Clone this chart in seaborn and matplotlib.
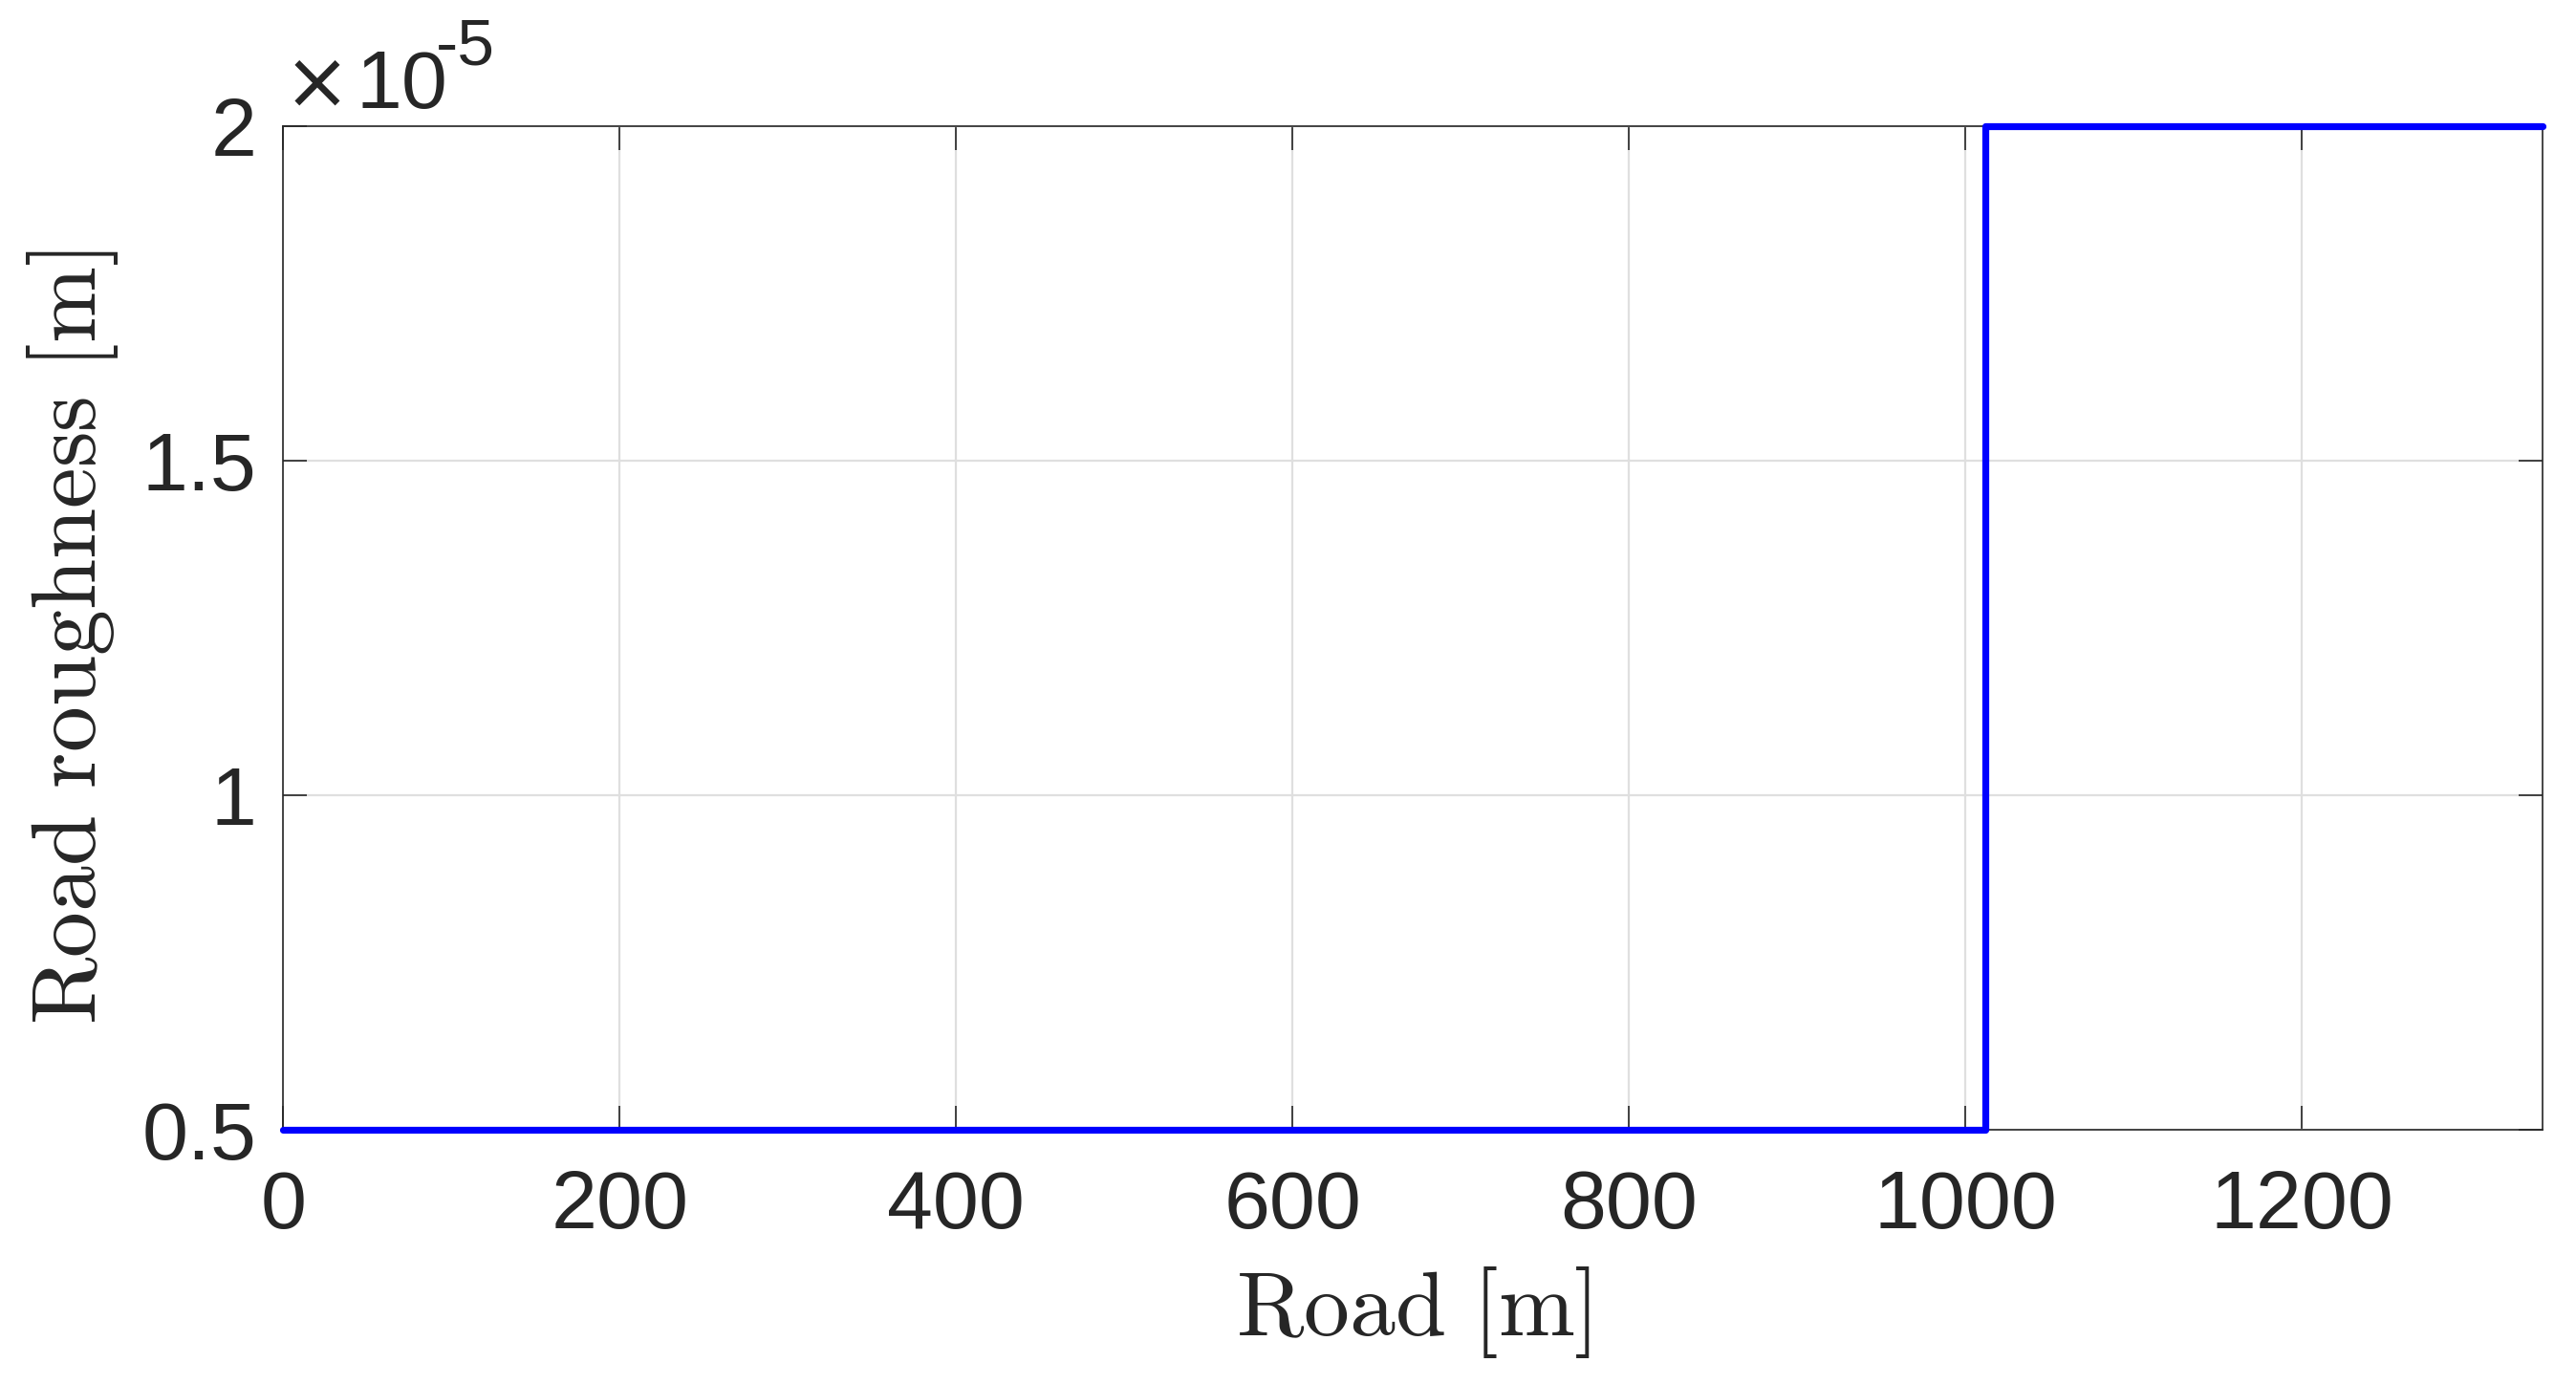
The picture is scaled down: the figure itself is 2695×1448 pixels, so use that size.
import matplotlib
matplotlib.use('Agg')
import matplotlib.pyplot as plt
import matplotlib.ticker as mticker
import pandas as pd
import seaborn as sns

# road profile: roughness changes at ~1012 m
road_pos = [0, 1012, 1343]
roughness = [5e-6, 2e-5, 2e-5]
x_ticks = [0, 200, 400, 600, 800, 1000, 1200]
y_ticks = [0.5e-5, 1.0e-5, 1.5e-5, 2.0e-5]
y_scale = 1e-5

df = pd.DataFrame({'road': road_pos, 'roughness': roughness})

sns.set_style('whitegrid')
plt.rcParams['font.family'] = ['Liberation Sans', 'DejaVu Sans']
plt.rcParams['mathtext.fontset'] = 'cm'

fig = plt.figure(figsize=(13.475, 7.24), dpi=200)
ax = fig.add_axes([0.110, 0.184, 0.877, 0.725])

sns.lineplot(ax=ax, x='road', y='roughness', data=df, estimator=None,
             drawstyle='steps-post', color='#0000ff', linewidth=2.6,
             clip_on=False, zorder=5)

ax.set_xlim(0, 1343)
ax.set_ylim(0.5e-5, 2.0e-5)
ax.set_xticks(x_ticks)
ax.set_yticks(y_ticks)
ax.yaxis.set_major_formatter(mticker.FuncFormatter(lambda v, p: '%g' % round(v / y_scale, 6)))

# MATLAB-style exponent above the y axis
ax.text(0.0, 1.018, '\u00d7', transform=ax.transAxes, fontsize=30,
        family='DejaVu Sans', color='#262626', ha='left', va='baseline')
ax.text(0.032, 1.018, '10', transform=ax.transAxes, fontsize=31,
        color='#262626', ha='left', va='baseline')
ax.text(0.0675, 1.061, '-5', transform=ax.transAxes, fontsize=25,
        color='#262626', ha='left', va='baseline')

ax.grid(True, color='#dfdfdf', linewidth=0.8)
for side in ['top', 'bottom', 'left', 'right']:
    ax.spines[side].set_visible(True)
    ax.spines[side].set_color('#262626')
    ax.spines[side].set_linewidth(0.6)

ax.tick_params(axis='both', direction='in', length=9, width=0.6, color='#262626',
               labelsize=31, labelcolor='#262626', top=True, right=True,
               bottom=True, left=True)
ax.tick_params(axis='x', pad=15)
ax.tick_params(axis='y', pad=10)

ax.set_xlabel(r'$\mathrm{Road\ [m]}$', fontsize=34.5, color='#262626')
ax.set_ylabel(r'$\mathrm{Road\ roughness\ [m]}$', fontsize=34.5, color='#262626')
ax.xaxis.set_label_coords(0.5, -0.135)
ax.yaxis.set_label_coords(-0.072, 0.49)

fig.savefig('out.png', dpi=200, facecolor='white')
